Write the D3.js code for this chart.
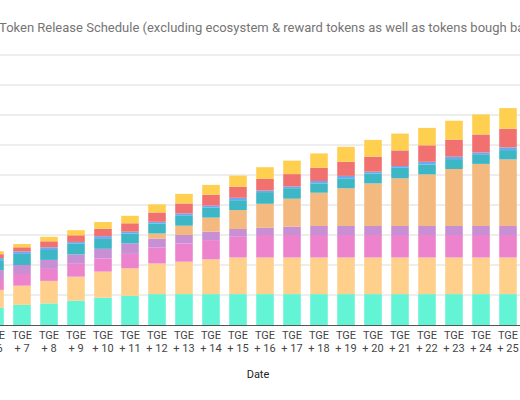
<!DOCTYPE html>
<html>
<head>
<meta charset="utf-8">
<script src="https://cdn.jsdelivr.net/npm/d3@7"></script>
<style>
  html, body { margin: 0; padding: 0; background: #fff; overflow: hidden; }
  svg { display: block; }
</style>
</head>
<body>
<svg id="chart" width="520" height="400"></svg>
<script>
// Categories (periods after TGE) visible in the chart
const categories = ["TGE + 6","TGE + 7","TGE + 8","TGE + 9","TGE + 10","TGE + 11","TGE + 12","TGE + 13","TGE + 14","TGE + 15",
                    "TGE + 16","TGE + 17","TGE + 18","TGE + 19","TGE + 20","TGE + 21","TGE + 22","TGE + 23","TGE + 24","TGE + 25"];

// Series (bottom to top), estimated values
const seriesNames = ["S1","S2","S3","S4","S5","S6","S7","S8","S9"];
const s1 = [5.7, 6.7, 7.2, 8.1, 9.1, 9.7, 10.3, 10.3, 10.3, 10.3, 10.3, 10.3, 10.3, 10.3, 10.3, 10.3, 10.3, 10.3, 10.3, 10.3];
const s2 = [6.0, 6.4, 7.5, 8.0, 8.7, 9.2, 10.2, 10.8, 11.6, 12.2, 12.2, 12.2, 12.2, 12.2, 12.2, 12.2, 12.2, 12.2, 12.2, 12.2];
const s3 = [3.3, 3.9, 4.0, 4.3, 4.4, 4.8, 5.3, 6.1, 6.4, 6.9, 7.5, 7.5, 7.5, 7.5, 7.5, 7.5, 7.5, 7.5, 7.5, 7.5];
const s4 = [3.3, 3.0, 3.0, 3.1, 3.2, 3.5, 3.0, 2.8, 2.8, 2.6, 2.4, 2.8, 3.0, 3.0, 3.0, 3.0, 3.0, 3.0, 3.0, 3.0];
const s5 = [0, 0, 0, 0, 0, 0, 1.7, 3.1, 4.7, 6.3, 8.0, 9.3, 11.1, 12.6, 14.2, 15.9, 17.2, 19.0, 20.7, 22.2];
const s6 = [3.3, 3.7, 3.3, 3.6, 3.3, 3.3, 3.3, 3.3, 3.3, 3.3, 3.9, 3.5, 3.1, 3.3, 3.3, 3.5, 3.3, 3.3, 3.0, 3.1];
const s7 = [0.7, 0.8, 0.9, 0.6, 0.9, 0.6, 0.6, 0.8, 0.7, 0.8, 0.5, 0.6, 0.8, 0.8, 0.6, 0.6, 0.9, 0.8, 0.8, 0.9];
const s8 = [1.3, 1.4, 2.0, 2.2, 2.5, 2.8, 3.1, 3.3, 3.6, 3.7, 3.9, 4.1, 4.4, 4.7, 5.0, 5.2, 5.5, 5.7, 6.0, 6.2];
const s9 = [1.0, 1.1, 1.5, 1.7, 2.2, 2.5, 2.7, 3.2, 3.3, 3.7, 3.9, 4.5, 4.8, 5.0, 5.6, 5.6, 5.8, 6.3, 6.7, 6.9];
const colors = ["#63f4d6","#ffd08c","#ed83cd","#c98fd4","#f4b97e","#3db6c6","#6ea9f0","#f0716f","#ffcf50"];

const yTicks = [0, 10, 20, 30, 40, 50, 60, 70, 80, 90];
const titleText = "Token Release Schedule (excluding ecosystem & reward tokens as well as tokens bough back)";
const xAxisTitle = "Date";

const seriesValues = [s1, s2, s3, s4, s5, s6, s7, s8, s9];
const rows = categories.map((c, i) => {
  const r = { cat: c };
  seriesNames.forEach((n, k) => { r[n] = seriesValues[k][i]; });
  return r;
});

const svg = d3.select("#chart");
const stack = d3.stack().keys(seriesNames);
const stacked = stack(rows);

const x = d3.scaleBand().domain(categories).range([-18.5, 521.5]).paddingInner(0.35).paddingOuter(0.175);
const y = d3.scaleLinear().domain([0, 90]).range([325, 55]);

// gridlines
svg.append("g")
  .selectAll("line")
  .data(yTicks.slice(1))
  .join("line")
  .attr("x1", -10).attr("x2", 530)
  .attr("y1", d => y(d)).attr("y2", d => y(d))
  .attr("stroke", "#dcdcdc").attr("stroke-width", 1);

// bars
svg.append("g")
  .selectAll("g")
  .data(stacked)
  .join("g")
  .attr("fill", (d, i) => colors[i])
  .selectAll("rect")
  .data(d => d)
  .join("rect")
  .attr("x", d => x(d.data.cat))
  .attr("width", x.bandwidth())
  .attr("y", d => y(d[1]))
  .attr("height", d => Math.max(0, y(d[0]) - y(d[1])));

// baseline
svg.append("line")
  .attr("x1", -10).attr("x2", 530)
  .attr("y1", y(0) + 0.5).attr("y2", y(0) + 0.5)
  .attr("stroke", "#555").attr("stroke-width", 1);

// x axis labels
const xAxis = svg.append("g").attr("transform", `translate(0,${y(0)})`)
  .call(d3.axisBottom(x).tickSize(0).tickPadding(0));
xAxis.select(".domain").remove();
xAxis.selectAll(".tick text").each(function(d) {
  const parts = d.split(" ");
  const t = d3.select(this);
  t.text(null)
   .attr("font-family", "Roboto, Arial, sans-serif")
   .attr("font-size", 11)
   .attr("fill", "#444")
   .attr("dy", null)
   .attr("y", 0);
  t.append("tspan").attr("x", 0).attr("y", 14).text(parts[0]);
  t.append("tspan").attr("x", 0).attr("y", 27).text(parts.slice(1).join(" "));
});

// axis title
svg.append("text")
  .attr("x", 258).attr("y", 378)
  .attr("text-anchor", "middle")
  .attr("font-family", "Roboto, Arial, sans-serif")
  .attr("font-size", 11)
  .attr("fill", "#222")
  .text(xAxisTitle);

// chart title
svg.append("text")
  .attr("x", -1).attr("y", 32)
  .attr("font-family", "Roboto, Arial, sans-serif")
  .attr("font-size", 13)
  .attr("fill", "#757575")
  .text(titleText);
</script>
</body>
</html>
